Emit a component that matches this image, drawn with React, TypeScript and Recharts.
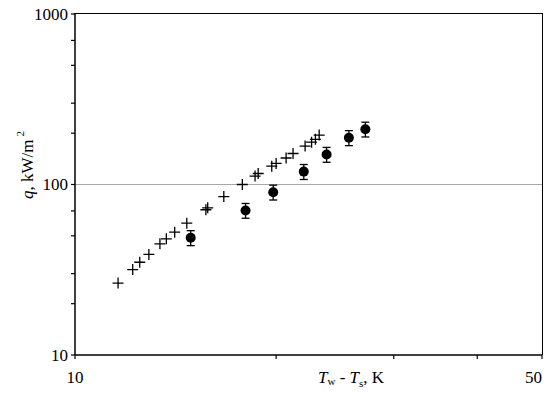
import React from 'react'
import {
  ErrorBar,
  Label,
  ReferenceLine,
  Scatter,
  ScatterChart,
  XAxis,
  YAxis,
} from 'recharts'

// "+" series: T_w - T_s (K) and q (kW/m2)
const crossT = [11.6, 12.2, 12.5, 12.9, 13.4, 13.7, 14.1, 14.7, 15.7, 15.8, 16.7, 17.8, 18.6, 18.8, 19.7, 20.0, 20.7, 21.2, 22.1, 22.6, 22.9, 23.2]
const crossQ = [26.4, 31.7, 35.0, 38.9, 44.9, 48.0, 52.5, 59.3, 71.1, 73.0, 85, 100, 112, 116, 128, 133, 143, 152, 168, 177, 184, 195]

// filled circles with error bars
const dotT = [14.9, 18.0, 19.8, 22.0, 23.8, 25.7, 27.2]
const dotQ = [48.7, 70.4, 90.1, 119, 150, 188, 211]
const dotErr = [4.9, 7, 9, 12, 15, 19, 21]

const xTicks = [10, 20, 30, 40, 50]
const xLabels = [10, 50]
const yTicks = [10, 20, 30, 40, 50, 60, 70, 80, 90, 100, 200, 300, 400, 500, 600, 700, 800, 900, 1000]
const yLabels = [10, 100, 1000]

const crossData = crossT.map((t, i) => ({ t, q: crossQ[i] }))
const dotData = dotT.map((t, i) => ({ t, q: dotQ[i], err: dotErr[i] }))

const font = '"Liberation Serif", "Times New Roman", serif'
const frame = { stroke: '#000', strokeWidth: 1.5 }

const Cross = (props: any) => {
  const { cx, cy } = props
  return (
    <path
      d={`M${cx - 5.5},${cy}h11M${cx},${cy - 5.5}v11`}
      stroke="#000"
      strokeWidth={1.3}
      fill="none"
    />
  )
}

const Dot = (props: any) => <circle cx={props.cx} cy={props.cy} r={5} fill="#000" />

const YTick = (props: any) => {
  const { x, y, payload } = props
  if (!yLabels.includes(payload.value)) return <g />
  return (
    <text x={x} y={y} dy="0.35em" textAnchor="end" fontFamily={font} fontSize={17} fill="#000">
      {payload.value}
    </text>
  )
}

const XTick = (props: any) => {
  const { x, y, payload } = props
  if (!xLabels.includes(payload.value)) return <g />
  const last = payload.value === 50
  return (
    <text x={x} y={y + 16} textAnchor={last ? 'end' : 'middle'} fontFamily={font} fontSize={17} fill="#000">
      {payload.value}
    </text>
  )
}

const YTitle = () => (
  <text
    transform="translate(33,165) rotate(-90)"
    textAnchor="middle"
    fontFamily={font}
    fontSize={17}
    fill="#000"
  >
    <tspan fontStyle="italic">q</tspan>
    <tspan>, kW/m</tspan>
    <tspan dy={-9} dx={3} fontSize={11}>2</tspan>
  </text>
)

const XTitle = () => (
  <text x={318} y={383} fontFamily={font} fontSize={17} fill="#000">
    <tspan fontStyle="italic">T</tspan>
    <tspan fontSize={11} dy={2}>w</tspan>
    <tspan dy={-2}> - </tspan>
    <tspan fontStyle="italic">T</tspan>
    <tspan fontSize={11} dy={4}>s</tspan>
    <tspan dy={-4}>, K</tspan>
  </text>
)

export default function App() {
  return (
    <div style={{ position: 'absolute', left: 0, top: 0, width: 550, height: 395, background: '#fff' }}>
      <ScatterChart width={550} height={395} margin={{ top: 14, right: 8, bottom: 0, left: 0 }}>
        <XAxis
          dataKey="t"
          type="number"
          scale="log"
          domain={[10, 50]}
          ticks={xTicks}
          allowDataOverflow
          height={40}
          tickSize={4}
          tickMargin={8}
          axisLine={frame}
          tickLine={{ stroke: '#000', strokeWidth: 1.2 }}
          tick={<XTick />}
        >
          <Label content={<XTitle />} />
        </XAxis>
        <YAxis
          dataKey="q"
          type="number"
          scale="log"
          domain={[10, 1000]}
          ticks={yTicks}
          allowDataOverflow
          width={75}
          tickSize={4}
          tickMargin={3}
          axisLine={frame}
          tickLine={{ stroke: '#000', strokeWidth: 1.2 }}
          tick={<YTick />}
        >
          <Label content={<YTitle />} />
        </YAxis>
        <ReferenceLine y={100} stroke="#a6a6a6" strokeWidth={1.2} />
        <Scatter data={crossData} shape={<Cross />} isAnimationActive={false} />
        <Scatter data={dotData} shape={<Dot />} isAnimationActive={false}>
          <ErrorBar dataKey="err" direction="y" width={4} stroke="#000" strokeWidth={1.3} isAnimationActive={false} />
        </Scatter>
      </ScatterChart>
      {/* top and right edges of the plot frame */}
      <div
        style={{
          position: 'absolute',
          left: 74.25,
          top: 13.25,
          width: 468.5,
          height: 341.75,
          boxSizing: 'border-box',
          borderTop: '1.5px solid #000',
          borderRight: '1.5px solid #000',
          pointerEvents: 'none',
        }}
      />
    </div>
  )
}
